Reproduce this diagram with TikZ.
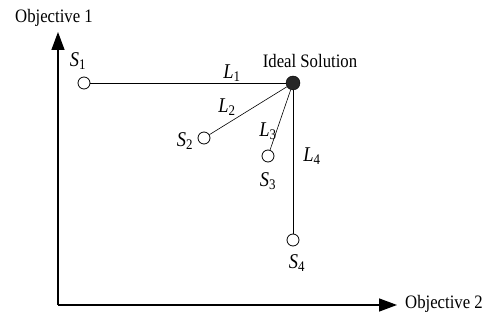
\documentclass[tikz,border=0pt]{standalone}
\usepackage{fontspec}
\setmainfont{Liberation Serif}[FakeStretch=0.88]
\usetikzlibrary{arrows.meta}
\newcommand{\lbl}[2]{\textit{#1}\textsubscript{#2}}
\begin{document}
\begin{tikzpicture}[x=1pt,y=1pt,
    every node/.style={font=\fontsize{19}{21}\selectfont},
    sym/.style={font=\fontsize{21}{23}\selectfont},
    sol/.style={draw,circle,thick,fill=white,minimum size=12pt,inner sep=0pt},
    axis/.style={line width=1.5pt,-{Triangle[length=18pt,width=13pt]}}]
    \useasboundingbox (0,0) rectangle (488,321);
    % axes
    \coordinate (o) at (58,16);
    \coordinate (ytip) at (58,289);
    \coordinate (xtip) at (397,16);
    \draw[axis] (o) -- (ytip);
    \draw[axis] (o) -- (xtip);
    \node (obj1) at (54,303) {Objective 1};
    \node[anchor=west,inner sep=0pt] (obj2) at (405,17) {Objective 2};
    % solutions
    \node[draw,circle,fill=black!85,minimum size=14pt,inner sep=0pt] (ideal) at (293,238) {};
    \node[sol] (s1) at (84,238) {};
    \node[sol] (s2) at (204,183) {};
    \node[sol] (s3) at (268,165) {};
    \node[sol] (s4) at (293,81) {};
    \draw[semithick] (s1) -- (ideal);
    \draw[semithick] (s2) -- (ideal);
    \draw[semithick] (s3) -- (ideal);
    \draw[semithick] (s4) -- (ideal);
    \node (idl) at (310,260) {Ideal Solution};
    \node[sym] (ls1) at (78,260) {\lbl{S}{1}};
    \node[sym] (ls2) at (185,180) {\lbl{S}{2}};
    \node[sym] (ls3) at (268,140) {\lbl{S}{3}};
    \node[sym] (ls4) at (297,58) {\lbl{S}{4}};
    \node[sym] (l1) at (232,248) {\lbl{L}{1}};
    \node[sym] (l2) at (227,214) {\lbl{L}{2}};
    \node[sym] (l3) at (268,190) {\lbl{L}{3}};
    \node[sym] (l4) at (312,165) {\lbl{L}{4}};
\end{tikzpicture}
\end{document}
